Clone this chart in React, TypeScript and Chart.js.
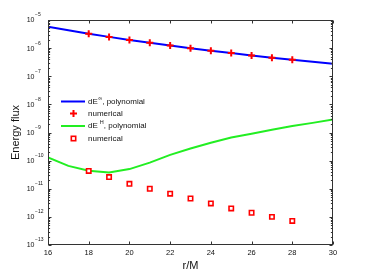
import React, { useEffect, useRef } from "react";
import { Chart, registerables } from "chart.js";

Chart.register(...registerables);

const rPoly = [16, 17, 18, 19, 20, 21, 22, 23, 24, 25, 26, 27, 28, 29, 30];
const fluxInfPoly = [5.75e-6, 4.3e-6, 3.26e-6, 2.51e-6, 1.96e-6, 1.55e-6, 1.24e-6, 9.97e-7, 8.11e-7, 6.67e-7, 5.51e-7, 4.59e-7, 3.85e-7, 3.25e-7, 2.76e-7];
const fluxHPoly = [1.3e-10, 6.5e-11, 4.4e-11, 3.8e-11, 5.0e-11, 8.5e-11, 1.6e-10, 2.7e-10, 4.3e-10, 6.6e-10, 9.1e-10, 1.26e-9, 1.7e-9, 2.2e-9, 2.9e-9];
const rNum = [18, 19, 20, 21, 22, 23, 24, 25, 26, 27, 28];
const fluxInfNum = [3.26e-6, 2.51e-6, 1.96e-6, 1.55e-6, 1.24e-6, 9.97e-7, 8.11e-7, 6.67e-7, 5.51e-7, 4.59e-7, 3.85e-7];
const fluxHNum = [4.3e-11, 2.6e-11, 1.5e-11, 1.0e-11, 6.7e-12, 4.5e-12, 3.0e-12, 2.0e-12, 1.4e-12, 1.0e-12, 7.2e-13];
const xTicks = [16, 18, 20, 22, 24, 26, 28, 30];
const yExponents = [-5, -6, -7, -8, -9, -10, -11, -12, -13];
const xTitle = "r/M";
const yTitle = "Energy flux";

const FONT = '"Liberation Sans", Arial, sans-serif';

const decorPlugin = {
  id: "decor",
  afterDraw(chart: any) {
    const ctx = chart.ctx;
    const a = chart.chartArea;
    const xs = chart.scales.x;
    const ys = chart.scales.y;
    const L = Math.round(a.left) + 0.5;
    const R = Math.round(a.right) - 0.5;
    const T = Math.round(a.top) + 0.5;
    const B = Math.round(a.bottom) - 0.5;
    ctx.save();
    ctx.strokeStyle = "#333";
    ctx.lineWidth = 1;
    ctx.strokeRect(L, T, R - L, B - T);
    ctx.beginPath();
    for (const v of xTicks) {
      const px = Math.round(xs.getPixelForValue(v)) + 0.5;
      ctx.moveTo(px, B);
      ctx.lineTo(px, B - 3);
      ctx.moveTo(px, T);
      ctx.lineTo(px, T + 3);
    }
    for (let e = -13; e <= -5; e++) {
      for (let m = 1; m < 10; m++) {
        if (e === -5 && m > 1) break;
        const v = m * Math.pow(10, e);
        const py = Math.round(ys.getPixelForValue(v)) + 0.5;
        const len = m === 1 ? 3 : 1.6;
        ctx.moveTo(L, py);
        ctx.lineTo(L + len, py);
        ctx.moveTo(R, py);
        ctx.lineTo(R - len, py);
      }
    }
    ctx.stroke();

    ctx.fillStyle = "#111";
    ctx.textBaseline = "middle";
    ctx.font = `7.5px ${FONT}`;
    ctx.textAlign = "center";
    for (const v of xTicks) {
      ctx.fillText(String(v), xs.getPixelForValue(v), 253);
    }
    for (const e of yExponents) {
      const py = ys.getPixelForValue(Math.pow(10, e));
      ctx.font = `7px ${FONT}`;
      ctx.textAlign = "right";
      ctx.fillText("10", 34.5, py + 0.5);
      ctx.font = `5px ${FONT}`;
      ctx.textAlign = "left";
      ctx.fillText("\u2212" + String(-e), 35, py - 5);
    }
    ctx.font = `11px ${FONT}`;
    ctx.textAlign = "center";
    ctx.fillText(xTitle, (a.left + a.right) / 2, 266);
    ctx.save();
    ctx.translate(16, (a.top + a.bottom) / 2);
    ctx.rotate(-Math.PI / 2);
    ctx.fillText(yTitle, 0, 0);
    ctx.restore();

    // legend
    const lx0 = 61, lx1 = 85, tx = 88;
    const rows = [101.5, 113.5, 126, 138.5];
    ctx.lineWidth = 2;
    ctx.strokeStyle = "#0000ff";
    ctx.beginPath();
    ctx.moveTo(lx0, rows[0]);
    ctx.lineTo(lx1, rows[0]);
    ctx.stroke();
    ctx.strokeStyle = "#22ee22";
    ctx.beginPath();
    ctx.moveTo(lx0, rows[2]);
    ctx.lineTo(lx1, rows[2]);
    ctx.stroke();
    ctx.strokeStyle = "#ff0000";
    ctx.beginPath();
    ctx.moveTo(73.5 - 3.5, rows[1]);
    ctx.lineTo(73.5 + 3.5, rows[1]);
    ctx.moveTo(73.5, rows[1] - 3.5);
    ctx.lineTo(73.5, rows[1] + 3.5);
    ctx.stroke();
    ctx.lineWidth = 1.6;
    ctx.fillStyle = "#fff";
    ctx.fillRect(71.3, rows[3] - 2.2, 4.4, 4.4);
    ctx.strokeRect(71.3, rows[3] - 2.2, 4.4, 4.4);

    ctx.fillStyle = "#111";
    ctx.textAlign = "left";
    const drawSup = (y: number, base: string, sup: string, rest: string) => {
      ctx.font = `8px ${FONT}`;
      ctx.fillText(base, tx, y);
      let x = tx + ctx.measureText(base).width;
      ctx.font = `5.5px ${FONT}`;
      ctx.fillText(sup, x + 0.5, y - 3.5);
      x += ctx.measureText(sup).width + 0.5;
      ctx.font = `8px ${FONT}`;
      ctx.fillText(rest, x, y);
    };
    drawSup(rows[0], "dE", "\u221e", ", polynomial");
    ctx.font = `8px ${FONT}`;
    ctx.fillText("numerical", tx, rows[1]);
    drawSup(rows[2], "dE", " H", ", polynomial");
    ctx.font = `8px ${FONT}`;
    ctx.fillText("numerical", tx, rows[3]);
    ctx.restore();
  },
};

export default function App() {
  const ref = useRef<HTMLCanvasElement | null>(null);
  useEffect(() => {
    document.body.style.margin = "0";
    const canvas = ref.current;
    if (!canvas) return;
    const toXY = (xsArr: number[], ysArr: number[]) => xsArr.map((x, i) => ({ x, y: ysArr[i] }));
    const chart = new Chart(canvas, {
      type: "line",
      data: {
        datasets: [
          {
            label: "numerical",
            data: toXY(rNum, fluxInfNum),
            showLine: false,
            pointStyle: "cross",
            pointRadius: 3.5,
            borderWidth: 2,
            borderColor: "#ff0000",
            backgroundColor: "#ff0000",
          },
          {
            label: "numerical",
            data: toXY(rNum, fluxHNum),
            showLine: false,
            pointStyle: "rect",
            pointRadius: 3.1,
            borderWidth: 1.6,
            borderColor: "#ff0000",
            backgroundColor: "#ffffff",
          },
          {
            label: "dE∞, polynomial",
            data: toXY(rPoly, fluxInfPoly),
            borderColor: "#0000ff",
            borderWidth: 2,
            pointRadius: 0,
            tension: 0,
          },
          {
            label: "dE H, polynomial",
            data: toXY(rPoly, fluxHPoly),
            borderColor: "#22ee22",
            borderWidth: 2,
            pointRadius: 0,
            tension: 0,
          },
        ],
      },
      options: {
        animation: false,
        responsive: false,
        devicePixelRatio: 1,
        layout: { padding: { left: 48, right: 35, top: 20, bottom: 32 } },
        plugins: { legend: { display: false }, tooltip: { enabled: false } },
        scales: {
          x: {
            type: "linear",
            min: 16,
            max: 30,
            grid: { display: false },
            border: { display: false },
            ticks: { display: false },
            afterFit: (s: any) => { s.height = 0; },
          },
          y: {
            type: "logarithmic",
            min: 1e-13,
            max: 1e-5,
            grid: { display: false },
            border: { display: false },
            ticks: { display: false },
            afterFit: (s: any) => { s.width = 0; },
          },
        },
      },
      plugins: [decorPlugin],
    } as any);
    return () => chart.destroy();
  }, []);
  return (
    <div style={{ width: 368, height: 277, background: "#fff" }}>
      <canvas ref={ref} width={368} height={277} style={{ display: "block" }} />
    </div>
  );
}
